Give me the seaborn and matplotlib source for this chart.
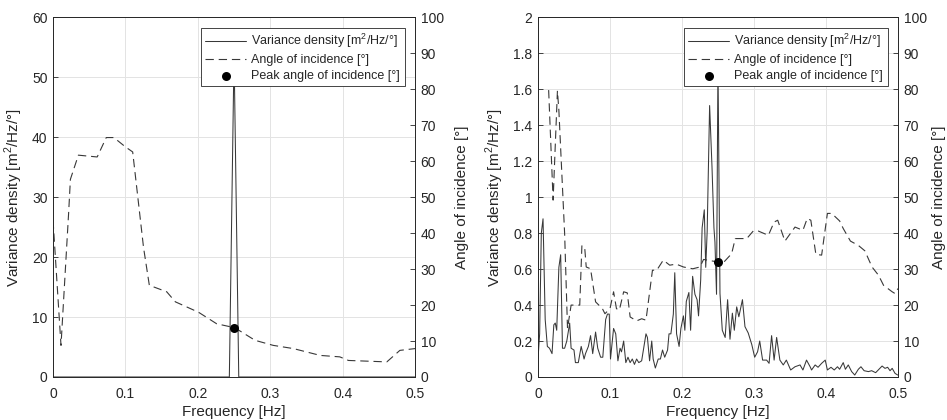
import matplotlib
matplotlib.use("Agg")
import matplotlib.pyplot as plt
import seaborn as sns
from matplotlib.ticker import FormatStrFormatter, MultipleLocator

# ---------- Data ----------
# left panel
freq_v1 = [0, 0.2435, 0.25, 0.2565, 0.5]
var_v1 = [0, 0, 54, 0, 0]

freq_a1 = [0, 0.011, 0.0215, 0.024, 0.035, 0.061, 0.0735, 0.084, 0.1, 0.11,
           0.125, 0.133, 0.157, 0.169, 0.201, 0.226, 0.251, 0.279, 0.304,
           0.332, 0.369, 0.396, 0.408, 0.461, 0.479, 0.5]
angle_a1 = [43.6, 8.8, 45.5, 55, 61.7, 61.2, 66.6, 66.6, 64, 62.6,
            36, 25.5, 23.7, 20.9, 18, 14.8, 13.7, 10.2, 8.8,
            7.9, 6.0, 5.6, 4.6, 4.2, 7.4, 7.9]

peak_f1 = [0.25]
peak_a1 = [13.7]

# right panel
freq_v2 = [0, 0.0023, 0.0046, 0.007, 0.01, 0.013, 0.016, 0.0195, 0.022, 0.024,
           0.026, 0.029, 0.0315, 0.034, 0.037, 0.040, 0.044, 0.046, 0.05, 0.052,
           0.056, 0.060, 0.064, 0.066, 0.070, 0.073, 0.076, 0.080, 0.083, 0.087,
           0.09, 0.094, 0.0965, 0.099, 0.1007, 0.105, 0.108, 0.111, 0.114, 0.116,
           0.119, 0.122, 0.125, 0.128, 0.131, 0.134, 0.137, 0.14, 0.144, 0.15,
           0.152, 0.155, 0.158, 0.16, 0.163, 0.167, 0.17, 0.173, 0.176, 0.18,
           0.182, 0.1846, 0.188, 0.19, 0.1925, 0.196, 0.1985, 0.202, 0.204, 0.206,
           0.2096, 0.212, 0.2148, 0.218, 0.221, 0.223, 0.226, 0.228, 0.231, 0.233,
           0.235, 0.2384, 0.2417, 0.2444, 0.2458, 0.248, 0.25, 0.2528, 0.256, 0.26,
           0.2634, 0.2667, 0.27, 0.2727, 0.276, 0.279, 0.284, 0.2875, 0.292, 0.297,
           0.301, 0.305, 0.308, 0.312, 0.3176, 0.321, 0.3245, 0.328, 0.3315, 0.336,
           0.3407, 0.345, 0.351, 0.357, 0.364, 0.368, 0.373, 0.378,
           0.38, 0.385, 0.389, 0.394, 0.399, 0.402, 0.407, 0.4115, 0.416, 0.419,
           0.424, 0.427, 0.431, 0.4357, 0.44, 0.445, 0.4486, 0.453, 0.459, 0.4635,
           0.469, 0.4736, 0.478, 0.482, 0.4857, 0.489, 0.492, 0.496, 0.4996]
var_v2 = [0.10, 0.24, 0.80, 0.88, 0.32, 0.17, 0.16, 0.13, 0.29, 0.30,
          0.26, 0.61, 0.68, 0.16, 0.16, 0.20, 0.30, 0.16, 0.15, 0.08,
          0.08, 0.17, 0.10, 0.13, 0.17, 0.23, 0.13, 0.25, 0.16, 0.11,
          0.11, 0.32, 0.35, 0.35, 0.10, 0.27, 0.24, 0.09, 0.16, 0.14,
          0.20, 0.08, 0.11, 0.08, 0.10, 0.07, 0.10, 0.08, 0.09, 0.24,
          0.22, 0.09, 0.20, 0.10, 0.05, 0.10, 0.10, 0.15, 0.11, 0.15,
          0.24, 0.24, 0.35, 0.58, 0.24, 0.17, 0.27, 0.34, 0.26, 0.42,
          0.47, 0.26, 0.56, 0.46, 0.43, 0.34, 0.54, 0.83, 0.93, 0.61,
          0.81, 1.51, 1.17, 0.83, 0.75, 0.46, 1.75, 0.465, 0.26, 0.22,
          0.43, 0.21, 0.355, 0.26, 0.39, 0.335, 0.43, 0.28, 0.245, 0.18,
          0.11, 0.14, 0.20, 0.094, 0.094, 0.076, 0.23, 0.094, 0.22, 0.094,
          0.067, 0.094, 0.039, 0.057, 0.067, 0.039, 0.094, 0.057,
          0.039, 0.067, 0.054, 0.076, 0.094, 0.039, 0.054, 0.039, 0.057, 0.043,
          0.08, 0.043, 0.067, 0.03, 0.011, 0.043, 0.057, 0.035, 0.03, 0.035,
          0.024, 0.043, 0.061, 0.048, 0.054, 0.035, 0.048, 0.02, 0.011]

freq_a2 = [0.0148, 0.021, 0.027, 0.029, 0.037, 0.041, 0.046, 0.058, 0.061, 0.065,
           0.067, 0.073, 0.080, 0.0895, 0.093, 0.1, 0.105, 0.109, 0.113, 0.119,
           0.124, 0.128, 0.137, 0.144, 0.15, 0.159, 0.165, 0.174, 0.183, 0.192,
           0.202, 0.215, 0.225, 0.23, 0.241, 0.25, 0.257, 0.269, 0.274, 0.29,
           0.299, 0.306, 0.32, 0.328, 0.333, 0.343, 0.357, 0.368, 0.374, 0.379,
           0.386, 0.394, 0.402, 0.408, 0.419, 0.424, 0.434, 0.445, 0.454, 0.464,
           0.473, 0.48, 0.492, 0.496, 0.5]
angle_a2 = [79.8, 49.2, 79.6, 74.2, 39.9, 13.5, 20, 20, 36.6, 35.7,
            30.6, 30.1, 20.9, 19, 17.6, 19, 23.7, 19, 18.6, 23.7,
            23.4, 16.7, 15.6, 16.2, 15.8, 29.7, 29.7, 32.5, 31.1, 31.4,
            30.6, 30.1, 30.6, 32.7, 32.3, 32.0, 31.7, 34.3, 38.5, 38.5,
            40.6, 40.6, 39.4, 43.1, 43.6, 37.8, 41.7, 40.8, 44.1, 43.6,
            34.1, 33.9, 45.5, 45.5, 43.4, 41.3, 37.8, 36.6, 35.1, 30.6,
            28.3, 25.5, 23.7, 23.2, 24.6]

peak_f2 = [0.25]
peak_a2 = [32.0]

LABELS = ["Variance density [m$^2$/Hz/°]", "Angle of incidence [°]",
          "Peak angle of incidence [°]"]

# ---------- Theme ----------
sns.set_style("whitegrid")
plt.rcParams["font.family"] = ["Liberation Sans", "DejaVu Sans"]
plt.rcParams["mathtext.fontset"] = "custom"
plt.rcParams["mathtext.rm"] = "Liberation Sans"
plt.rcParams["lines.scale_dashes"] = False
TXT = "#262626"
LINE = "#383838"
for k in ["text.color", "axes.labelcolor", "xtick.color", "ytick.color"]:
    plt.rcParams[k] = TXT

fig = plt.figure(figsize=(9.47, 4.2), dpi=100)
fig.patch.set_facecolor("white")


def panel(rect, fv, vv, fa, aa, pf, pa, ymax, ystep, rpad):
    ax = fig.add_axes(rect)
    ax2 = ax.twinx()
    sns.lineplot(x=fv, y=vv, ax=ax, color=LINE, linewidth=0.75,
                 errorbar=None, legend=False)
    sns.lineplot(x=fa, y=aa, ax=ax2, color=LINE, linewidth=0.8,
                 linestyle=(0, (6, 3.5)), errorbar=None, legend=False)
    sns.scatterplot(x=pf, y=pa, ax=ax2, color="black", s=42,
                    edgecolor="black", linewidth=0, legend=False, zorder=5)

    ax.set_xlim(0, 0.5)
    ax.set_ylim(0, ymax)
    ax2.set_ylim(0, 100)
    ax.xaxis.set_major_locator(MultipleLocator(0.1))
    ax.yaxis.set_major_locator(MultipleLocator(ystep))
    ax2.yaxis.set_major_locator(MultipleLocator(10))
    ax.xaxis.set_major_formatter(FormatStrFormatter("%g"))
    ax.yaxis.set_major_formatter(FormatStrFormatter("%g"))

    ax.grid(True, color="#e3e3e3", linewidth=0.7)
    ax2.grid(False)
    for a in (ax, ax2):
        a.tick_params(direction="in", length=3.5, width=0.6, labelsize=10,
                      pad=4)
        for s in a.spines.values():
            s.set_edgecolor(TXT)
            s.set_linewidth(0.6)
    ax.tick_params(axis="x", pad=7)

    ax.set_xlabel("Frequency [Hz]", fontsize=11, labelpad=3)
    ax.set_ylabel(LABELS[0], fontsize=11, labelpad=5)
    ax2.set_ylabel(LABELS[1], fontsize=11, labelpad=rpad)

    handles = [ax.lines[0], ax2.lines[0], ax2.collections[0]]
    leg = ax2.legend(handles, LABELS, loc="upper right",
                     bbox_to_anchor=(0.971, 0.971), borderaxespad=0,
                     fontsize=9, handlelength=3.3, handletextpad=0.4,
                     labelspacing=0.3, borderpad=0.35, fancybox=False,
                     framealpha=1, edgecolor=TXT)
    leg.get_frame().set_linewidth(0.6)
    return ax, ax2


panel([0.056, 0.1024, 0.3823, 0.856], freq_v1, var_v1, freq_a1, angle_a1,
      peak_f1, peak_a1, 60, 10, 8)
panel([0.5681, 0.1024, 0.3801, 0.856], freq_v2, var_v2, freq_a2, angle_a2,
      peak_f2, peak_a2, 2, 0.2, 4)

fig.savefig("out.png", dpi=100)
